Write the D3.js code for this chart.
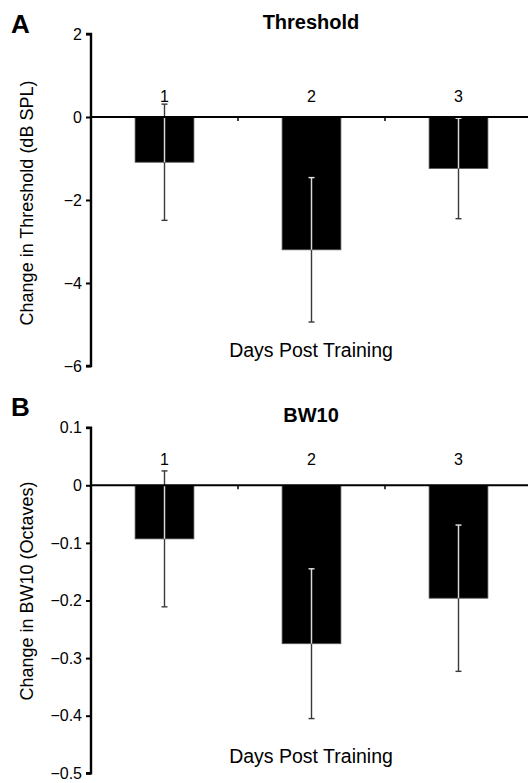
<!DOCTYPE html>
<html><head><meta charset="utf-8">
<script src="https://cdn.jsdelivr.net/npm/d3@7"></script>
<style>
html,body{margin:0;padding:0;background:#fff;}
text{font-family:"Liberation Sans",Arial,Helvetica,sans-serif;fill:#000;}
</style></head>
<body><svg id="c" width="528" height="783"></svg>
<script>
const days = ["1","2","3"];
const thresholdMean = [-1.09, -3.20, -1.24];
const thresholdErr = [1.40, 1.74, 1.21];
const thresholdTicks = [2, 0, -2, -4, -6];
const bw10Mean = [-0.093, -0.275, -0.196];
const bw10Err = [0.118, 0.130, 0.127];
const bw10Ticks = [0.1, 0, -0.1, -0.2, -0.3, -0.4, -0.5];

const svg = d3.select("#c");

function panel(cfg){
  const g = svg.append("g");
  const x = d3.scaleBand().domain(days).range([91, 532]);
  const y = d3.scaleLinear().domain(cfg.domain).range([cfg.bottom, cfg.top]);
  const bw = x.bandwidth();
  const data = days.map((d,i)=>({d, m: cfg.mean[i], e: cfg.err[i]}));

  // bars
  g.selectAll("rect.bar").data(data).join("rect")
    .attr("x", d=>x(d.d)+bw*0.3).attr("width", bw*0.4)
    .attr("y", d=>y(Math.max(0,d.m))).attr("height", d=>Math.abs(y(d.m)-y(0)))
    .attr("fill","#000").attr("stroke","#555").attr("stroke-width",0.8);

  // error bars
  data.forEach(d=>{
    const cx = x(d.d)+bw/2;
    const hi = d.m + d.e, lo = d.m - d.e;
    const inBar = v => v < 0 && v > d.m;
    g.append("line").attr("x1",cx).attr("x2",cx).attr("y1",y(hi)).attr("y2",y(lo))
      .attr("stroke","#3a3a3a").attr("stroke-width",1.4);
    const top = Math.min(hi,0), bot = d.m;
    if (top > bot) {
      g.append("line").attr("x1",cx).attr("x2",cx).attr("y1",y(top)).attr("y2",y(bot))
        .attr("stroke","#d8d8d8").attr("stroke-width",1.4);
    }
    [hi, lo].forEach(v=>{
      g.append("line").attr("x1",cx-3).attr("x2",cx+3).attr("y1",y(v)).attr("y2",y(v))
        .attr("stroke", inBar(v) ? "#e8e8e8" : "#3a3a3a").attr("stroke-width",1.4);
    });
  });

  // zero line (x axis)
  g.append("line").attr("x1",91).attr("x2",528).attr("y1",y(0)).attr("y2",y(0))
    .attr("stroke","#000").attr("stroke-width",2);
  g.selectAll("line.bt").data(days.slice(1)).join("line")
    .attr("x1",d=>x(d)).attr("x2",d=>x(d)).attr("y1",y(0)).attr("y2",y(0)+4)
    .attr("stroke","#000").attr("stroke-width",1.5);
  g.selectAll("text.cat").data(days).join("text")
    .attr("x",d=>x(d)+bw/2).attr("y",cfg.catY).attr("text-anchor","middle")
    .attr("font-size",16).text(d=>d);

  // y axis
  const ax = g.append("g").attr("transform","translate(91,0)")
    .call(d3.axisLeft(y).tickValues(cfg.ticks).tickSize(5).tickPadding(4)
      .tickFormat(cfg.fmt));
  ax.select(".domain").attr("stroke","#000").attr("stroke-width",2.4)
    .attr("d", `M-5,${y(cfg.domain[1])}H0V${y(cfg.domain[0])}H-5`);
  ax.selectAll(".tick line").attr("stroke","#000").attr("stroke-width",2);
  ax.selectAll(".tick text").attr("font-size",16).attr("font-family","Liberation Sans, Arial, sans-serif").attr("fill","#000");

  g.append("text").attr("transform",`translate(33,${cfg.ylabY}) rotate(-90)`)
    .attr("text-anchor","middle").attr("font-size",18).text(cfg.ylab);
  g.append("text").attr("x",311).attr("y",cfg.xlabY).attr("text-anchor","middle")
    .attr("font-size",19.5).text("Days Post Training");
  g.append("text").attr("x",311).attr("y",cfg.titleY).attr("text-anchor","middle")
    .attr("font-size",20).attr("font-weight","bold").text(cfg.title);
  g.append("text").attr("x",11).attr("y",cfg.letterY)
    .attr("font-size",26).attr("font-weight","bold").text(cfg.letter);
}

panel({domain:[-6,2], top:34, bottom:366, mean:thresholdMean, err:thresholdErr,
  ticks:thresholdTicks, fmt:d3.format("d"), catY:102, ylab:"Change in Threshold (dB SPL)",
  ylabY:203, xlabY:357, title:"Threshold", titleY:29, letter:"A", letterY:33});
panel({domain:[-0.5,0.1], top:427.7, bottom:773.3, mean:bw10Mean, err:bw10Err,
  ticks:bw10Ticks, fmt:d=> d===0 ? "0" : d3.format(".1f")(d), catY:465, ylab:"Change in BW10 (Octaves)",
  ylabY:591, xlabY:763, title:"BW10", titleY:422, letter:"B", letterY:416});
</script></body></html>
